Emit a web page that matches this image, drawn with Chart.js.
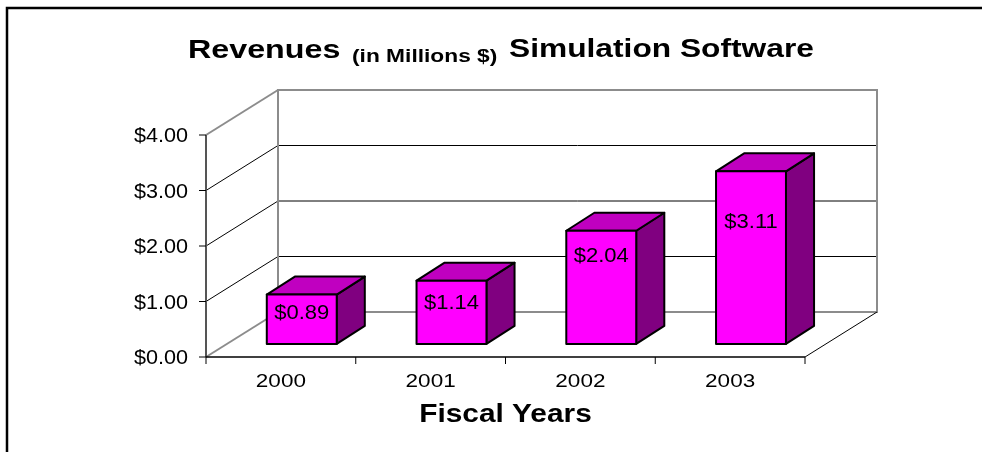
<!DOCTYPE html>
<html>
<head>
<meta charset="utf-8">
<script src="https://cdn.jsdelivr.net/npm/chart.js@4/dist/chart.umd.min.js"></script>
<style>
  html, body { margin: 0; padding: 0; background: #fff; }
  #wrap { width: 982px; height: 452px; }
</style>
</head>
<body>
<div id="wrap"><canvas id="myChart" width="982" height="452"></canvas></div>
<script>
const years = ['2000', '2001', '2002', '2003'];
const revenues = [0.89, 1.14, 2.04, 3.11];
const yTicks = [0, 1, 2, 3, 4];

const FONT = '"Liberation Sans", Arial, sans-serif';
// depth of the floor / side wall, in px
const DX = 72, DY = -45;
// how far each value label sits below the top edge of its bar
const labelDrop = [17, 21, 24, 50];

function money(v) {
  return '$' + v.toFixed(2);
}

// text is drawn a little stretched sideways (sx), like the old office charts
function drawText(ctx, str, x, y, font, sx, align) {
  ctx.save();
  ctx.font = font;
  ctx.textBaseline = 'alphabetic';
  ctx.textAlign = 'left';
  const w = ctx.measureText(str).width * sx;
  let left = x;
  if (align === 'center') left = x - w / 2;
  if (align === 'right') left = x - w;
  ctx.translate(left, y);
  ctx.scale(sx, 1);
  ctx.fillStyle = '#000';
  ctx.fillText(str, 0, 0);
  ctx.restore();
}

function line(ctx, x1, y1, x2, y2, color, width) {
  ctx.strokeStyle = color;
  ctx.lineWidth = width;
  ctx.beginPath();
  ctx.moveTo(x1, y1);
  ctx.lineTo(x2, y2);
  ctx.stroke();
}

const box3d = {
  id: 'box3d',
  beforeDatasetsDraw(chart) {
    const ctx = chart.ctx;
    const xs = chart.scales.x, ys = chart.scales.y;
    const left = chart.chartArea.left, right = chart.chartArea.right;
    const y0 = ys.getPixelForValue(0);
    const yTop = ys.getPixelForValue(yTicks[yTicks.length - 1]);
    ctx.save();

    // frame round the whole chart
    ctx.strokeStyle = '#000';
    ctx.lineWidth = 2.5;
    ctx.strokeRect(7, 8, 1100, 600);

    // gridlines on the back wall and the side wall
    yTicks.forEach(t => {
      const y = ys.getPixelForValue(t);
      const edge = t === yTicks[0] || t === yTicks[yTicks.length - 1];
      if (!edge) {
        line(ctx, left + DX, y + DY, right + DX, y + DY, '#000', 1);
        line(ctx, left, y, left + DX, y + DY, '#000', 1);
      } else {
        line(ctx, left, y, left + DX, y + DY, '#8c8c8c', 2);
      }
    });

    // back wall outline
    ctx.strokeStyle = '#8c8c8c';
    ctx.lineWidth = 2;
    ctx.strokeRect(left + DX, yTop + DY, right - left, y0 - yTop);

    // floor right edge
    line(ctx, right, y0, right + DX, y0 + DY, '#000', 1);

    // value axis
    line(ctx, left, yTop, left, y0, '#555', 2);
    yTicks.forEach(t => {
      const y = ys.getPixelForValue(t);
      line(ctx, left - 7, y, left, y, '#000', 1);
      drawText(ctx, money(t), 188, y + 7, '20px ' + FONT, 1.08, 'right');
    });

    // category axis
    line(ctx, left, y0, right, y0, '#000', 1.5);
    const half = (xs.getPixelForValue(1) - xs.getPixelForValue(0)) / 2;
    for (let i = 0; i <= years.length; i++) {
      const x = xs.getPixelForValue(0) - half + i * half * 2;
      line(ctx, x, y0, x, y0 + 7, '#000', 1);
    }
    years.forEach((yr, i) => {
      drawText(ctx, yr, xs.getPixelForValue(i), y0 + 30, '18px ' + FONT, 1.25, 'center');
    });
    drawText(ctx, 'Fiscal Years', (left + right) / 2, 422, 'bold 25.5px ' + FONT, 1.17, 'center');
    ctx.restore();
  },
  afterDatasetsDraw(chart) {
    const ctx = chart.ctx;
    const xs = chart.scales.x, ys = chart.scales.y;
    const catW = xs.getPixelForValue(1) - xs.getPixelForValue(0);
    const faceW = catW * 0.467;
    const fdx = DX * 0.29, fdy = DY * 0.29;
    const bdx = DX * 0.39, bdy = DY * 0.4;
    ctx.save();
    ctx.lineJoin = 'round';
    ctx.strokeStyle = '#000';
    ctx.lineWidth = 2;
    revenues.forEach((v, i) => {
      const cx = xs.getPixelForValue(i) + fdx;
      const x0 = cx - faceW / 2, x1 = cx + faceW / 2;
      const yb = ys.getPixelForValue(0) + fdy;
      const yt = ys.getPixelForValue(v) + fdy;

      // side
      ctx.fillStyle = '#800080';
      ctx.beginPath();
      ctx.moveTo(x1, yt);
      ctx.lineTo(x1 + bdx, yt + bdy);
      ctx.lineTo(x1 + bdx, yb + bdy);
      ctx.lineTo(x1, yb);
      ctx.closePath();
      ctx.fill();
      ctx.stroke();

      // top
      ctx.fillStyle = '#c000c0';
      ctx.beginPath();
      ctx.moveTo(x0, yt);
      ctx.lineTo(x0 + bdx, yt + bdy);
      ctx.lineTo(x1 + bdx, yt + bdy);
      ctx.lineTo(x1, yt);
      ctx.closePath();
      ctx.fill();
      ctx.stroke();

      // front
      ctx.fillStyle = '#ff00ff';
      ctx.beginPath();
      ctx.rect(x0, yt, x1 - x0, yb - yt);
      ctx.fill();
      ctx.stroke();

      drawText(ctx, money(v), cx, yt + labelDrop[i] + 7, '20px ' + FONT, 1.1, 'center');
    });
    ctx.restore();
  },
  afterDraw(chart) {
    const ctx = chart.ctx;
    drawText(ctx, 'Revenues', 188, 58, 'bold 26px ' + FONT, 1.24, 'left');
    drawText(ctx, '(in Millions $)', 352, 62, 'bold 17.5px ' + FONT, 1.3, 'left');
    drawText(ctx, 'Simulation Software', 509, 57, 'bold 26px ' + FONT, 1.22, 'left');
  }
};

const ctx = document.getElementById('myChart');
const myChart = new Chart(ctx, {
  type: 'bar',
  data: {
    labels: years,
    datasets: [{
      label: 'Revenues',
      data: revenues,
      backgroundColor: 'rgba(0,0,0,0)',
      borderWidth: 0
    }]
  },
  options: {
    responsive: false,
    animation: false,
    layout: {
      padding: { left: 206, right: 177, top: 135, bottom: 95 }
    },
    scales: {
      x: { type: 'category', display: false, offset: true },
      y: { min: 0, max: 4, display: false }
    },
    plugins: {
      legend: { display: false },
      tooltip: { enabled: false },
      title: { display: false }
    }
  },
  plugins: [box3d]
});
</script>
</body>
</html>
